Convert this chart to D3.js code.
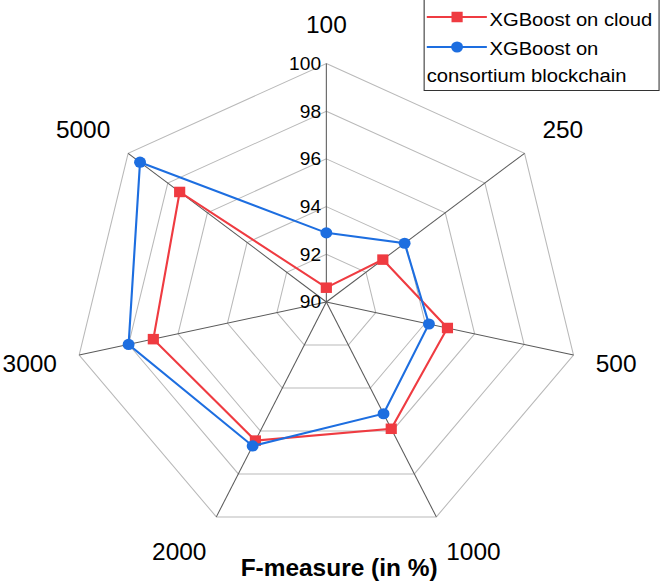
<!DOCTYPE html>
<html>
<head>
<meta charset="utf-8">
<script src="https://cdn.jsdelivr.net/npm/d3@7"></script>
<style>
    body { margin: 0; background: #fff; }
    svg { display: block; font-family: "Liberation Sans", Arial, sans-serif; }
</style>
</head>
<body>
<div id="chart"></div>
<script>
// chart data
const categories = ["100", "250", "500", "1000", "2000", "3000", "5000"];
const cloudValues = [90.6, 92.85, 94.9, 95.9, 96.45, 97.0, 97.4];
const chainValues = [92.9, 93.95, 94.15, 95.2, 96.7, 98.0, 99.4];
const tickValues = [90, 92, 94, 96, 98, 100];
const seriesNames = ["XGBoost on cloud", "XGBoost on consortium blockchain"];

const width = 661, height = 581;
const stretch = 1.063;          // the reference is a bit wider than tall
const cx = 307, cy = 302, radius = 238.5;
const red = "#ef3b41", blue = "#1d6ee0";

const svg = d3.select("#chart").append("svg")
    .attr("width", width)
    .attr("height", height);

const g = svg.append("g")
    .attr("transform", `scale(${stretch},1)`);

const plot = g.append("g")
    .attr("transform", `translate(${cx},${cy})`);

const r = d3.scaleLinear().domain([90, 100]).range([0, radius]);
const step = 2 * Math.PI / categories.length;

const radar = d3.lineRadial()
    .angle((d, i) => i * step)
    .radius(d => r(d))
    .curve(d3.curveLinearClosed);

// rings
plot.selectAll(".ring")
    .data(tickValues.filter(t => t > 90))
    .enter().append("path")
    .attr("class", "ring")
    .attr("d", t => radar(categories.map(() => t)))
    .attr("fill", "none")
    .attr("stroke", "#b9b9b9")
    .attr("stroke-width", 1);

// spokes
plot.selectAll(".spoke")
    .data(categories)
    .enter().append("line")
    .attr("class", "spoke")
    .attr("x1", 0).attr("y1", 0)
    .attr("x2", (d, i) => r(100) * Math.sin(i * step))
    .attr("y2", (d, i) => -r(100) * Math.cos(i * step))
    .attr("stroke", "#5a5a5a")
    .attr("stroke-width", 1);

// tick labels
plot.selectAll(".tick-label")
    .data(tickValues)
    .enter().append("text")
    .attr("class", "tick-label")
    .attr("x", -5)
    .attr("y", t => -r(t) + 0.358 * 18)
    .attr("text-anchor", "end")
    .style("font-size", "18px")
    .attr("fill", "#000")
    .text(t => t);

// category labels
const labelR = 260, catSize = 23;
plot.selectAll(".cat-label")
    .data(categories)
    .enter().append("text")
    .attr("class", "cat-label")
    .style("font-size", catSize + "px")
    .attr("text-anchor", "middle")
    .attr("fill", "#000")
    .text(d => d)
    .each(function(d, i) {
        let a = i * step;
        let s = Math.sin(a), c = Math.cos(a);
        let w = this.getComputedTextLength();
        let dx = Math.abs(s) > 0.1 ? Math.sign(s) * w / 2 : 0;
        let x = labelR * s + dx;
        let y = -labelR * c - 17 * c;
        d3.select(this)
            .attr("x", x)
            .attr("y", y + 0.358 * catSize);
    });

// series
function drawSeries(values, color, marker) {
    plot.append("path")
        .attr("d", radar(values))
        .attr("fill", "none")
        .attr("stroke", color)
        .attr("stroke-width", 2);

    let pts = values.map((v, i) => [r(v) * Math.sin(i * step), -r(v) * Math.cos(i * step)]);
    if (marker === "square") {
        plot.selectAll(null)
            .data(pts)
            .enter().append("rect")
            .attr("x", d => d[0] - 5.25)
            .attr("y", d => d[1] - 5.25)
            .attr("width", 10.5)
            .attr("height", 10.5)
            .attr("fill", color);
    } else {
        plot.selectAll(null)
            .data(pts)
            .enter().append("circle")
            .attr("cx", d => d[0])
            .attr("cy", d => d[1])
            .attr("r", 5.6)
            .attr("fill", color);
    }
}
drawSeries(cloudValues, red, "square");
drawSeries(chainValues, blue, "circle");

// title
g.append("text")
    .attr("x", 319)
    .attr("y", 576)
    .attr("text-anchor", "middle")
    .style("font-size", "23px")
    .style("font-weight", "bold")
    .attr("fill", "#000")
    .text("F-measure (in %)");

// legend
const legend = g.append("g");
legend.append("rect")
    .attr("x", 399).attr("y", -1)
    .attr("width", 221).attr("height", 91.5)
    .attr("fill", "#fff")
    .attr("stroke", "#333")
    .attr("stroke-width", 1);

const legSize = 19;
// row 1
legend.append("line")
    .attr("x1", 401.5).attr("x2", 458).attr("y1", 17).attr("y2", 17)
    .attr("stroke", red).attr("stroke-width", 2);
legend.append("rect")
    .attr("x", 430 - 5.25).attr("y", 17 - 5.25)
    .attr("width", 10.5).attr("height", 10.5)
    .attr("fill", red);
legend.append("text")
    .attr("x", 460.5).attr("y", 26)
    .style("font-size", legSize + "px")
    .text(seriesNames[0]);
// row 2
legend.append("line")
    .attr("x1", 401.5).attr("x2", 458).attr("y1", 47).attr("y2", 47)
    .attr("stroke", blue).attr("stroke-width", 2);
legend.append("circle")
    .attr("cx", 430).attr("cy", 47).attr("r", 5.6)
    .attr("fill", blue);
legend.append("text")
    .attr("x", 460.5).attr("y", 55)
    .style("font-size", legSize + "px")
    .text("XGBoost on");
legend.append("text")
    .attr("x", 401.5).attr("y", 82)
    .style("font-size", legSize + "px")
    .text("consortium blockchain");
</script>
</body>
</html>
